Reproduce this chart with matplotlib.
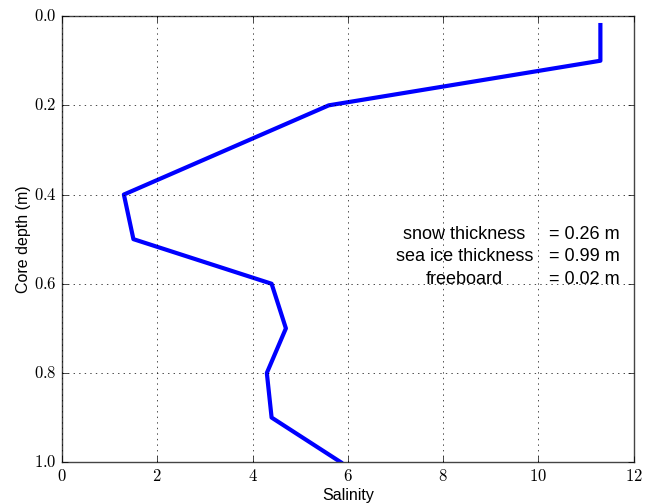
import matplotlib
matplotlib.use('Agg')
import matplotlib.pyplot as plt
from matplotlib.ticker import FuncFormatter

# salinity profile of the core
depth = [0.02, 0.1, 0.2, 0.4, 0.5, 0.6, 0.7, 0.8, 0.9, 1.0]
salinity = [11.3, 11.3, 5.6, 1.3, 1.5, 4.4, 4.7, 4.3, 4.4, 5.85]

info_names = ['snow thickness', 'sea ice thickness', 'freeboard']
info_values = ['= 0.26 m', '= 0.99 m', '= 0.02 m']

plt.style.use('classic')
plt.rcParams['mathtext.fontset'] = 'cm'
plt.rcParams['font.family'] = ['Liberation Sans', 'DejaVu Sans']

fig = plt.figure(figsize=(6.52, 5.04), dpi=100)
ax = fig.add_axes([0.095, 0.083, 0.877, 0.885])

ax.plot(salinity, depth, color='b', linewidth=3)

ax.set_xlim(0, 12)
ax.set_ylim(1.0, 0.0)
ax.set_xticks(range(0, 13, 2))
ax.set_yticks([0.0, 0.2, 0.4, 0.6, 0.8, 1.0])
ax.xaxis.set_major_formatter(FuncFormatter(lambda v, p: r'$%d$' % v))
ax.yaxis.set_major_formatter(FuncFormatter(lambda v, p: r'$%.1f$' % v))
ax.tick_params(labelsize=12)
ax.grid(True)
for s in ax.spines.values():
    s.set_color('#444444')

ax.set_xlabel('Salinity', fontsize=11.5, labelpad=3)
ax.set_ylabel('Core depth (m)', fontsize=11.5, labelpad=2)

# thickness info
for i in range(len(info_names)):
    ax.text(8.45, 0.49 + i * 0.05, info_names[i], ha='center', va='center', fontsize=13)
    ax.text(10.22, 0.49 + i * 0.05, info_values[i], ha='left', va='center', fontsize=13)

fig.savefig('out.png', dpi=100)
